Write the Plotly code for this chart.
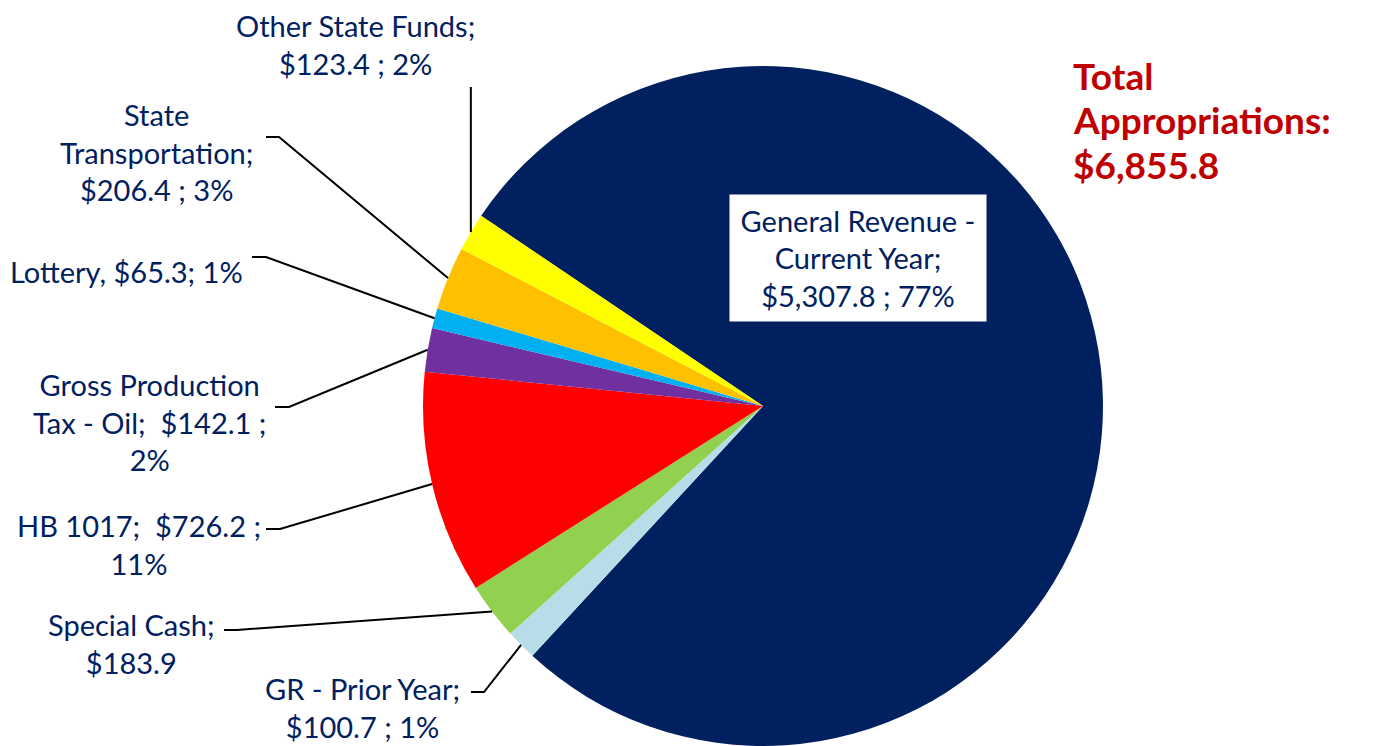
import math
import plotly.graph_objects as go

# ---------------- data ----------------
labels = ["General Revenue - Current Year", "GR - Prior Year", "Special Cash", "HB 1017",
          "Gross Production Tax - Oil", "Lottery", "State Transportation", "Other State Funds"]
values = [5307.8, 100.7, 183.9, 726.2, 142.1, 65.3, 206.4, 123.4]
colors = ["#002060", "#B7DEE8", "#92D050", "#FF0000", "#7030A0", "#00B0F0", "#FFC000", "#FFFF00"]
label_texts = [
    "General Revenue -<br>Current Year;<br>$5,307.8 ; 77%",
    "GR - Prior Year;<br>$100.7 ; 1%",
    "Special Cash;<br>$183.9",
    "HB 1017;\u00a0 $726.2 ;<br>11%",
    "Gross Production<br>Tax - Oil;\u00a0 $142.1 ;<br>2%",
    "Lottery, $65.3; 1%",
    "State<br>Transportation;<br>$206.4 ; 3%",
    "Other State Funds;<br>$123.4 ; 2%",
]
total_lines = ["Total", "Appropriations:", "$6,855.8"]

# ---------------- layout constants (screen pixels) ----------------
OFF = 8                              # page body margin
W, H = 1376 - OFF, 746 - OFF         # figure size
CX, CY, R = 763, 406, 340            # pie centre / radius on screen
ROT = -56                            # start angle (deg clockwise from 12 o'clock)
NAVY = "#002060"
FONT = "Lato"

# label block centres (screen px) and leader-line label-side points
label_pos = [(858, 258), (362, 707), (131, 643), (139, 544), (149, 422), (126, 272), (156, 152), (355, 44)]
leader_pts = [None,
              [(471, 692), (484, 692)],
              [(224, 630), (237, 630)],
              [(266, 529), (280, 529)],
              [(275, 407), (289, 407)],
              [(252, 257), (266, 257)],
              [(266, 137), (279, 137)],
              "vertical"]
total_pos = [(1071, 75), (1071, 120), (1071, 164)]


def px2paper(x, y):
    return (x - OFF) / W, 1 - (y - OFF) / H


fcx, fcy = CX - OFF, CY - OFF
fig = go.Figure(go.Pie(
    labels=labels, values=values, sort=False, direction="clockwise", rotation=ROT,
    marker=dict(colors=colors, line=dict(width=0)),
    textinfo="none", hoverinfo="label+value+percent", showlegend=False,
    domain=dict(x=[(fcx - R) / W, (fcx + R) / W], y=[(H - fcy - R) / H, (H - fcy + R) / H]),
))

total = sum(values)
cum = 0.0
shapes = []
annotations = []
for i, v in enumerate(values):
    mid = math.radians(ROT + 360.0 * (cum + v / 2.0) / total)
    cum += v
    ex, ey = CX + R * math.sin(mid), CY - R * math.cos(mid)
    lp = leader_pts[i]
    if lp is not None:
        if lp == "vertical":
            pts = [(ex, 87), (ex, ey)]
        else:
            pts = list(lp) + [(ex, ey)]
        path = ""
        for k, (x, y) in enumerate(pts):
            px, py = px2paper(x, y)
            path += ("M" if k == 0 else " L") + f" {px:.5f},{py:.5f}"
        shapes.append(dict(type="path", xref="paper", yref="paper", path=path,
                           line=dict(color="black", width=2)))
    lx, ly = px2paper(*label_pos[i])
    ann = dict(x=lx, y=ly, xref="paper", yref="paper", text=label_texts[i], showarrow=False,
               xanchor="center", yanchor="middle", align="center",
               font=dict(family=FONT, size=29, color=NAVY))
    if i == 0:
        ann.update(bgcolor="white", width=256, height=126, borderpad=0)
    annotations.append(ann)

for txt, (x, y) in zip(total_lines, total_pos):
    tx, ty = px2paper(x, y)
    annotations.append(dict(x=tx, y=ty, xref="paper", yref="paper", text="<b>" + txt + "</b>",
                            showarrow=False, xanchor="left", yanchor="middle", align="left",
                            font=dict(family=FONT, size=37, color="#C00000")))

fig.update_layout(width=W, height=H, margin=dict(l=0, r=0, t=0, b=0),
                  paper_bgcolor="white", plot_bgcolor="white",
                  shapes=shapes, annotations=annotations)

fig.write_html("out.html")
